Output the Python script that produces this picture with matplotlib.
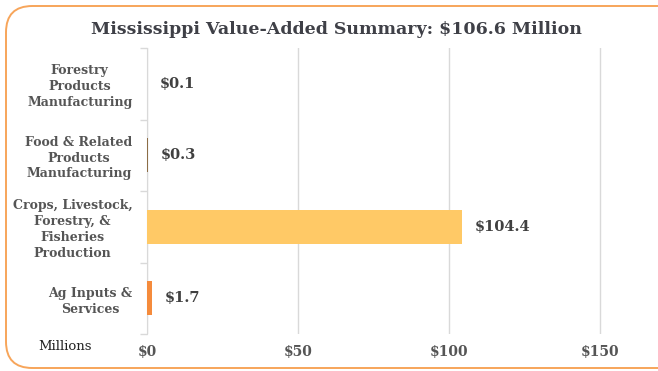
import matplotlib
matplotlib.use("Agg")
import matplotlib.pyplot as plt
from matplotlib.patches import FancyBboxPatch

# Value-added by sector, millions of dollars (bottom to top)
categories = [
    "Ag Inputs &\nServices",
    "Crops, Livestock,\nForestry, &\nFisheries\nProduction",
    "Food & Related\nProducts\nManufacturing",
    "Forestry\nProducts\nManufacturing",
]
values = [1.7, 104.4, 0.3, 0.1]
value_labels = ["$1.7", "$104.4", "$0.3", "$0.1"]
bar_colors = ["#F58B3C", "#FFC966", "#8C6D46", "#6E8B3D"]
x_ticks = [0, 50, 100, 150]
x_tick_labels = ["$0", "$50", "$100", "$150"]
title = "Mississippi Value-Added Summary: $106.6 Million"

W, H = 658, 371
fig = plt.figure(figsize=(W / 100, H / 100), dpi=100)
fig.patch.set_facecolor("white")

serif = ["DejaVu Serif"]
label_color = "#555555"

# Rounded orange frame (runs off the right edge)
frame = FancyBboxPatch((6 / W, 3 / H), 720 / W, (H - 9) / H,
                       boxstyle="round,pad=0,rounding_size=0.04",
                       transform=fig.transFigure, facecolor="none",
                       edgecolor="#F7A55A", linewidth=1.4,
                       mutation_aspect=W / H, clip_on=False)
fig.patches.append(frame)

xmax = 160
left = 147 / W
right = (147 + xmax * 151 / 50) / W
top, bottom = 1 - 48 / H, 1 - 334 / H
ax = fig.add_axes([left, bottom, right - left, top - bottom])

y = list(range(len(categories)))
ax.barh(y, values, height=0.48, color=bar_colors, zorder=3)

ax.set_xlim(0, xmax)
ax.set_ylim(-0.5, len(categories) - 0.5)

ax.set_xticks(x_ticks)
ax.set_xticklabels(x_tick_labels, family=serif, fontweight="bold",
                   fontsize=10, color=label_color)
ax.tick_params(axis="x", length=0, pad=8)
ax.grid(axis="x", color="#D9D9D9", linewidth=1, zorder=0)

ax.set_yticks(y)
ax.set_yticklabels(categories, family=serif, fontweight="bold",
                   fontsize=9, color=label_color, multialignment="center",
                   linespacing=1.28)
ax.tick_params(axis="y", which="major", length=0, pad=10.5)
ax.set_yticks([i - 0.5 for i in range(len(categories) + 1)], minor=True)
ax.tick_params(axis="y", which="minor", length=5, color="#D9D9D9", width=1)

for s in ["top", "right", "bottom"]:
    ax.spines[s].set_visible(False)
ax.spines["left"].set_color("#D9D9D9")

for yi, v, lab in zip(y, values, value_labels):
    ax.annotate(lab, (v, yi), xytext=(9, 0), textcoords="offset points",
                va="center", ha="left", family=serif, fontweight="bold",
                fontsize=10.5, color="#404040")

fig.text(336 / W, 1 - 29 / H, title, ha="center", va="center",
         family=serif, fontweight="bold", fontsize=12.5, color="#3F4047")
fig.text(65 / W, 1 - 346 / H, "Millions", ha="center", va="center",
         family=serif, fontsize=9.5, color="#222222")

fig.savefig("out.png", dpi=100)
